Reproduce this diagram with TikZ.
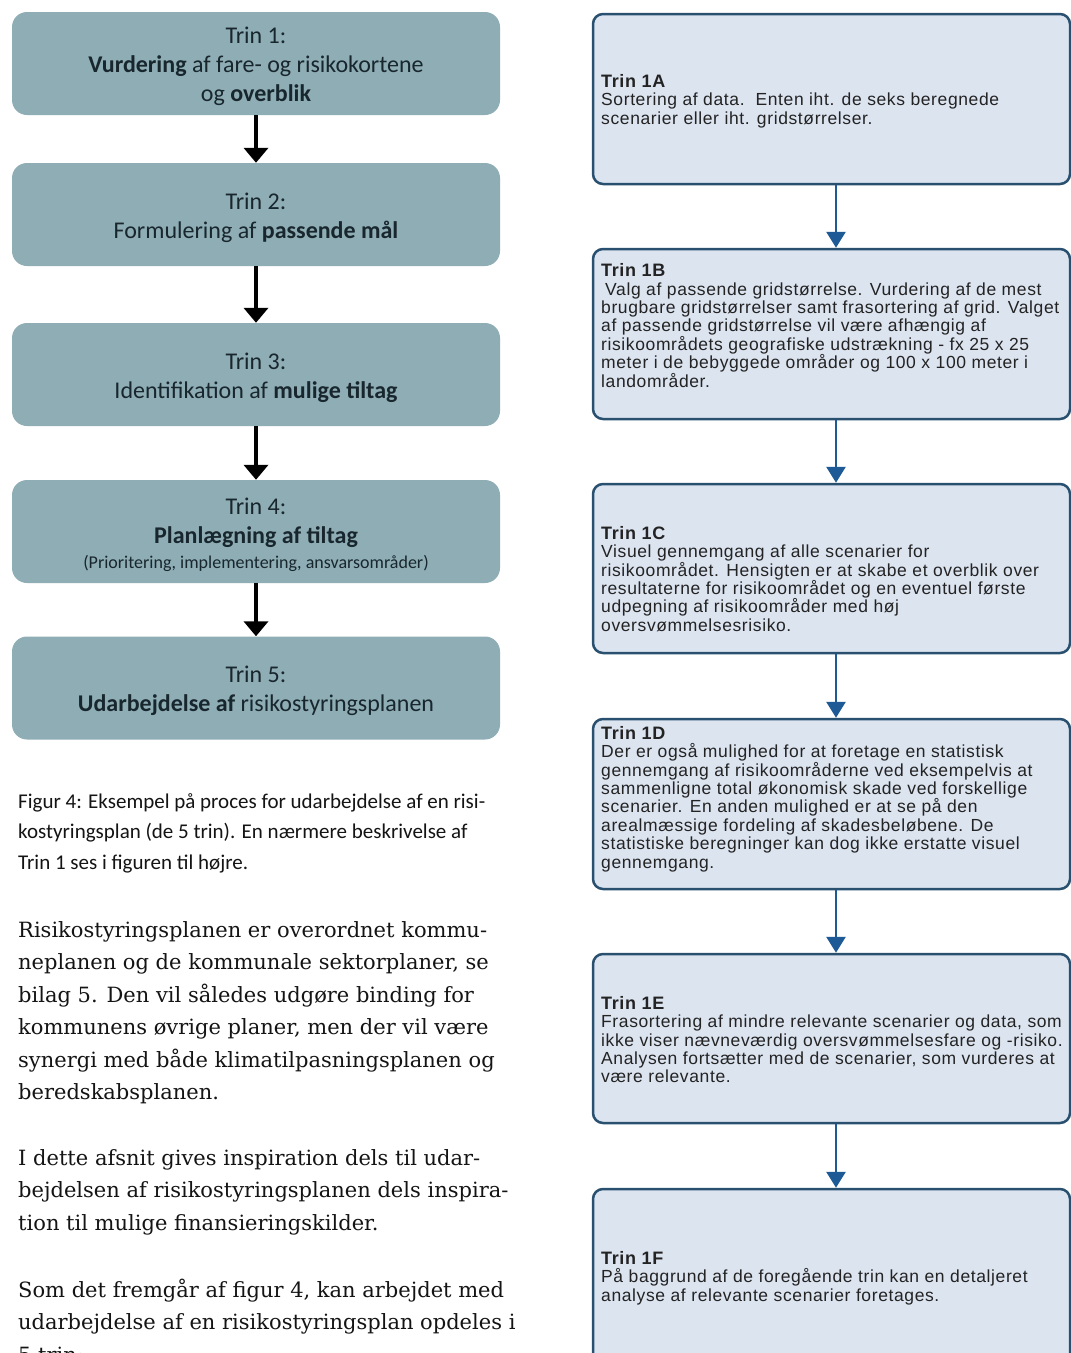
\documentclass[tikz,border=0pt]{standalone}
\usepackage{fontspec}
\setmainfont{DejaVu Serif}
\newfontfamily\calfont{Carlito}
\newfontfamily\arialfont{Liberation Sans}[LetterSpace=3.5]
\usetikzlibrary{arrows.meta}
\definecolor{leftfill}{RGB}{143,173,181}
\definecolor{lefttext}{RGB}{24,38,46}
\definecolor{rightfill}{RGB}{220,228,240}
\definecolor{rightborder}{RGB}{42,80,112}
\definecolor{rightarrow}{RGB}{30,90,150}
\definecolor{righttext}{RGB}{35,35,35}
\definecolor{bodytext}{RGB}{20,20,20}
\newcommand{\topstrut}{\rule{0pt}{23pt}}
\newcommand{\hdr}[1]{{\fontsize{18}{18.4}\selectfont\textbf{#1}}}
\tikzset{
  leftbox/.style={fill=leftfill, rounded corners=15pt, minimum width=488pt, minimum height=103pt,
    inner sep=0pt, align=center, text=lefttext, font=\calfont\fontsize{24}{29}\selectfont},
  leftarrow/.style={line width=4pt, draw=black, -{Triangle[width=24pt,length=15pt]}},
  rightbox/.style={fill=rightfill, draw=rightborder, line width=2.5pt, rounded corners=10pt,
    minimum width=477pt, inner sep=0pt},
  rightarr/.style={line width=2.8pt, draw=rightarrow, -{Triangle[width=19pt,length=16pt]}},
  righttxt/.style={anchor=base west, inner sep=0pt, text=righttext,
    font=\arialfont\fontsize{17.5}{18.4}\selectfont},
  paratxt/.style={anchor=base west, inner sep=0pt, text=bodytext}
}
\begin{document}
\begin{tikzpicture}[x=1pt,y=-1pt]
\useasboundingbox (0,0) rectangle (1071,1353);
\clip (0,0) rectangle (1071,1353);
\fill[white] (0,0) rectangle (1071,1353);

% Left column
\node[leftbox] (t1) at (256,63.5) {\topstrut Trin 1:\\ \textbf{Vurdering} af fare- og risikokortene\\ og \textbf{overblik}};
\node[leftbox] (t2) at (256,214.5) {\topstrut Trin 2:\\ Formulering af \textbf{passende mål}};
\node[leftbox] (t3) at (256,374.5) {\topstrut Trin 3:\\ Identifikation af \textbf{mulige tiltag}};
\node[leftbox] (t4) at (256,531.5) {\topstrut Trin 4:\\ \textbf{Planlægning af tiltag}\\[-4pt] {\fontsize{18}{22}\selectfont (Prioritering,\ implementering,\ ansvarsområder)}};
\node[leftbox] (t5) at (256,688) {\topstrut Trin 5:\\ \textbf{Udarbejdelse af} risikostyringsplanen};

\draw[leftarrow] (t1.south) -- (t2.north);
\draw[leftarrow] (t2.south) -- (t3.north);
\draw[leftarrow] (t3.south) -- (t4.north);
\draw[leftarrow] (t4.south) -- (t5.north);

% Caption and body text
\node[paratxt] (cap) at (18,808) {\parbox[t]{540pt}{\calfont\fontsize{21}{30.5}\selectfont\raggedright
Figur 4: Eksempel på proces for udarbejdelse af en risi-\\
kostyringsplan (de 5 trin). En nærmere beskrivelse af\\
Trin 1 ses i figuren til højre.}};

\node[paratxt] (p1) at (18,937) {\parbox[t]{560pt}{\fontsize{21}{32.5}\selectfont\raggedright
Risikostyringsplanen er overordnet kommu-\\
neplanen og de kommunale sektorplaner, se\\
bilag 5. Den vil således udgøre binding for\\
kommunens øvrige planer, men der vil være\\
synergi med både klimatilpasningsplanen og\\
beredskabsplanen.}};

\node[paratxt] (p2) at (18,1165) {\parbox[t]{560pt}{\fontsize{21}{32.5}\selectfont\raggedright
I dette afsnit gives inspiration dels til udar-\\
bejdelsen af risikostyringsplanen dels inspira-\\
tion til mulige finansieringskilder.}};

\node[paratxt] (p3) at (18,1297) {\parbox[t]{560pt}{\fontsize{21}{32.5}\selectfont\raggedright
Som det fremgår af figur 4, kan arbejdet med\\
udarbejdelse af en risikostyringsplan opdeles i\\
5 trin:}};

% Right column
\coordinate (ax) at (836,0);
\node[rightbox, minimum height=170pt] (r1) at (831.5,99) {};
\node[rightbox, minimum height=170pt] (r2) at (831.5,334) {};
\node[rightbox, minimum height=169pt] (r3) at (831.5,568.5) {};
\node[rightbox, minimum height=170pt] (r4) at (831.5,804) {};
\node[rightbox, minimum height=169pt] (r5) at (831.5,1038.5) {};
\node[rightbox, minimum height=181pt] (r6) at (831.5,1279.5) {};

\draw[rightarr] (r1.south -| ax) -- (r2.north -| ax);
\draw[rightarr] (r2.south -| ax) -- (r3.north -| ax);
\draw[rightarr] (r3.south -| ax) -- (r4.north -| ax);
\draw[rightarr] (r4.south -| ax) -- (r5.north -| ax);
\draw[rightarr] (r5.south -| ax) -- (r6.north -| ax);

\node[righttxt] (r1t) at (601,87.3) {\parbox[t]{470pt}{\raggedright
\hdr{Trin 1A}\\
Sortering af data.\ \ Enten iht. de seks beregnede\\
scenarier eller iht. gridstørrelser.}};

\node[righttxt] (r2t) at (601,276.7) {\parbox[t]{470pt}{\raggedright
\hdr{Trin 1B}\\
\hspace*{4pt}Valg af passende gridstørrelse. Vurdering af de mest\\
brugbare gridstørrelser samt frasortering af grid. Valget\\
af passende gridstørrelse vil være afhængig af\\
risikoområdets geografiske udstrækning - fx 25 x 25\\
meter i de bebyggede områder og 100 x 100 meter i\\
landområder.}};

\node[righttxt] (r3t) at (601,539.3) {\parbox[t]{470pt}{\raggedright
\hdr{Trin 1C}\\
Visuel gennemgang af alle scenarier for\\
risikoområdet. Hensigten er at skabe et overblik over\\
resultaterne for risikoområdet og en eventuel første\\
udpegning af risikoområder med høj\\
oversvømmelsesrisiko.}};

\node[righttxt] (r4t) at (601,739.3) {\parbox[t]{470pt}{\raggedright
\hdr{Trin 1D}\\
Der er også mulighed for at foretage en statistisk\\
gennemgang af risikoområderne ved eksempelvis at\\
sammenligne total økonomisk skade ved forskellige\\
scenarier. En anden mulighed er at se på den\\
arealmæssige fordeling af skadesbeløbene. De\\
statistiske beregninger kan dog ikke erstatte visuel\\
gennemgang.}};

\node[righttxt] (r5t) at (601,1009.3) {\parbox[t]{470pt}{\raggedright
\hdr{Trin 1E}\\
Frasortering af mindre relevante scenarier og data, som\\
ikke viser nævneværdig oversvømmelsesfare og -risiko.\\
Analysen fortsætter med de scenarier, som vurderes at\\
være relevante.}};

\node[righttxt] (r6t) at (601,1264.3) {\parbox[t]{470pt}{\raggedright
\hdr{Trin 1F}\\
På baggrund af de foregående trin kan en detaljeret\\
analyse af relevante scenarier foretages.}};
\end{tikzpicture}
\end{document}
